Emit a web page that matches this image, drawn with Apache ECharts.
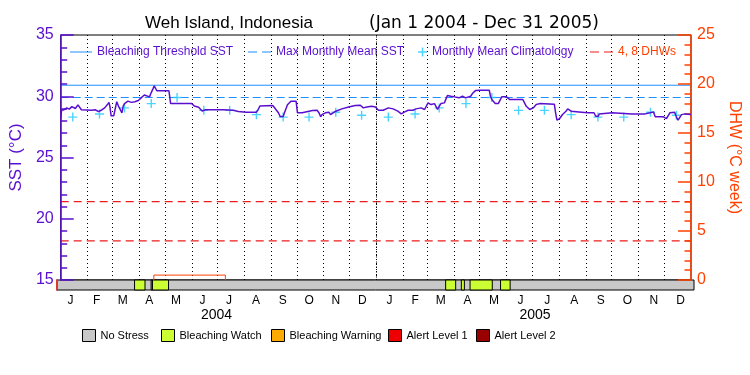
<!DOCTYPE html>
<html>
<head>
<meta charset="utf-8">
<title>Weh Island, Indonesia - SST / DHW</title>
<script src="https://cdn.jsdelivr.net/npm/echarts@6/dist/echarts.min.js"></script>
<style>
  html, body { margin: 0; padding: 0; background: #fff; }
  #chart { width: 750px; height: 375px; }
</style>
</head>
<body>
<div id="chart"></div>
<script>
// x values are days counted from Jan 1 2004 (731 days to Jan 1 2006)
const monthStarts = [0, 31, 60, 91, 121, 152, 182, 213, 244, 274, 305, 335,
  366, 397, 425, 456, 486, 517, 547, 578, 609, 639, 670, 700, 731]
const monthLabels = ['J', 'F', 'M', 'A', 'M', 'J', 'J', 'A', 'S', 'O', 'N', 'D',
  'J', 'F', 'M', 'A', 'M', 'J', 'J', 'A', 'S', 'O', 'N', 'D']
const yearLabels = ['2004', '2005']
const yearMids = [183, 548.5]

// SST (°C)
const sstDays = [0, 1, 4, 7, 10, 13, 17, 20, 22, 24, 26, 36, 40, 44, 48, 51, 54, 56, 57, 58.5,
  60, 61.5, 63, 65, 67, 69, 71, 72.5, 74, 78, 82, 86, 90, 93, 97, 99, 103, 105, 107, 108.5,
  110, 111.5, 125.5, 127.5, 152, 155, 160, 164, 166, 168, 189, 200, 206, 215, 227, 229, 231, 246, 252.5, 254.5,
  258, 259.5, 263, 267, 273, 274.6, 276.6, 280, 284, 292, 297.5, 299.5, 301.5, 303, 307, 311, 313, 315, 319, 326,
  334, 341.5, 347.5, 351, 355, 360.5, 365, 368.5, 374, 380, 385.5, 391, 395, 399, 403, 408.5, 412, 418,
  422, 426, 429.5, 433.5, 435.5, 437, 439, 441, 445, 448.5, 452.5, 456.5, 458, 462, 466, 469.5, 471.5, 475.5,
  477.5, 481, 487, 497, 498.5, 500, 504, 507.5, 511.5, 517, 521, 536, 540, 544, 548, 551.5, 555.5, 572.5,
  574, 575.5, 578.5, 582, 586, 588, 592, 601, 611, 618.5, 620.5, 623.5, 624.5, 639.5, 662.5, 678, 683.5, 687.5,
  689.5, 699, 702.5, 704.5, 706.5, 712, 714, 716, 720, 724, 731]
const sstVals = [28.2, 28.85, 28.9, 29.05, 28.95, 29.15, 29.0, 29.3, 29.15, 28.9, 28.8, 28.85, 28.9, 28.75, 28.9, 29.05, 29.3, 29.5, 29.2, 28.4,
  28.25, 28.4, 28.9, 29.55, 29.2, 29.3, 28.65, 29.2, 29.4, 29.6, 29.5, 29.55, 29.65, 29.85, 30.1, 30.05, 29.95, 30.3, 30.6, 30.85,
  30.75, 30.45, 30.45, 29.4, 29.4, 29.2, 29.1, 28.8, 28.7, 28.9, 28.9, 28.85, 28.75, 28.7, 28.7, 28.9, 29.2, 29.25, 28.65, 28.35,
  28.35, 28.65, 29.3, 29.6, 29.6, 28.65, 28.55, 28.65, 28.72, 28.83, 28.85, 28.65, 28.32, 28.5, 28.65, 28.7, 28.5, 28.65, 28.78, 28.97,
  29.13, 29.24, 29.27, 29.05, 29.13, 29.18, 29.13, 28.86, 28.86, 29.05, 28.97, 28.78, 28.56, 28.72, 28.86, 28.86, 28.97, 29.05,
  28.92, 29.46, 29.32, 29.4, 29.13, 28.92, 29.18, 29.4, 29.46, 30.06, 30.0, 29.95, 29.79, 29.87, 30.0, 29.87, 29.82, 30.0,
  30.22, 30.46, 30.49, 30.49, 30.0, 29.73, 29.4, 29.4, 29.95, 29.95, 29.73, 29.73, 29.18, 28.92, 29.05, 29.32, 29.4, 29.35,
  28.65, 28.05, 28.16, 28.51, 28.78, 28.97, 28.78, 28.72, 28.65, 28.65, 28.37, 28.37, 28.56, 28.65, 28.56, 28.56, 28.65, 28.72,
  28.32, 28.32, 28.18, 28.32, 28.65, 28.7, 28.32, 28.05, 28.5, 28.56, 28.51]

// monthly mean climatology, Jan..Dec, plotted mid-month in both years
const climVals = [28.3, 28.55, 29.05, 29.4, 29.9, 28.85, 28.85, 28.5, 28.3, 28.3, 28.7, 28.45]
const mmmSST = 29.9
const thresholdSST = 30.9
const dhwLevels = [4, 8]

// degree heating weeks (°C week)
const dhwDays = [108, 108, 191, 191]
const dhwVals = [0, 0.5, 0.5, 0]

// bleaching stress bar: segments [start, end) with level index
const stressStart = [0, 89, 108, 109.5, 446, 464, 474, 509]
const stressEnd = [731, 101, 109.5, 128, 457.5, 467.5, 499.5, 520]
const stressLevel = [0, 1, 2, 1, 1, 1, 1, 1]
const stressNames = ['No Stress', 'Bleaching Watch', 'Bleaching Warning', 'Alert Level 1', 'Alert Level 2']
const stressColors = ['#c8c8c8', '#ccff33', '#ffaa00', '#ee0000', '#990000']

const FONT = 'Liberation Sans'
const PURPLE = '#5a0fd0'
const ORANGE = '#ff4000'
const BLUE = '#1e90ff'
const CYAN = '#1ec8ff'
const DHW_RED = '#ee1c1c'
const CROSS = 'path://M3.8,0h1.4v3.8h3.8v1.4h-3.8v3.8h-1.4v-3.8h-3.8v-1.4h3.8z'
const ICON_SOLID = 'path://M0,0h22v1h-22z'
const ICON_DASH = 'path://M0,0h9v1h-9zM14,0h9v1h-9z'

const monthMids = monthStarts.slice(0, -1).map((d, i) => (d + monthStarts[i + 1]) / 2)
const climData = monthStarts.slice(0, -1).map((d, i) => [d + 14, climVals[i % 12]])
const sstData = sstDays.map((d, i) => [d, sstVals[i]])
const dhwData = dhwDays.map((d, i) => [d, dhwVals[i]])
const txt = (size, color, family) => ({ fontFamily: family || FONT, fontSize: size, color: color || '#000' })

const renderStress = (params, api) => {
  const p0 = api.coord([api.value(0), 1])
  const p1 = api.coord([api.value(1), 0])
  return {
    type: 'rect',
    shape: { x: p0[0], y: p0[1], width: p1[0] - p0[0], height: p1[1] - p0[1] },
    style: { fill: api.visual('color'), stroke: '#000', lineWidth: 1 }
  }
}

const stressSeries = stressNames.map((name, lvl) => ({
  name,
  type: 'custom',
  xAxisIndex: 1,
  yAxisIndex: 2,
  renderItem: renderStress,
  itemStyle: { color: stressColors[lvl] },
  data: stressStart.map((s, i) => [s, stressEnd[i], stressLevel[i]]).filter(d => d[2] === lvl),
  z: 3 + lvl
}))

// one legend per item so they sit where the original puts them
const bottomLeft = [82, 161, 271, 388, 476]
const bottomLegends = stressNames.map((name, i) => ({
  data: [name], left: bottomLeft[i], top: 329, padding: 0, selectedMode: false,
  icon: 'rect', itemWidth: 13, itemHeight: 12,
  itemStyle: { borderColor: '#000', borderWidth: 1 },
  textStyle: txt(11)
}))
const topLegends = [
  { name: 'Bleaching Threshold SST', left: 70, icon: ICON_SOLID, w: 22, h: 1.5, color: PURPLE },
  { name: 'Max Monthly Mean SST', left: 248, icon: ICON_DASH, w: 23, h: 1.5, color: PURPLE },
  { name: 'Monthly Mean Climatology', left: 418, icon: CROSS, w: 9, h: 9, color: PURPLE },
  { name: '4, 8 DHWs', left: 590, icon: ICON_DASH, w: 23, h: 1.5, color: ORANGE }
].map(l => ({
  data: [{ name: l.name, icon: l.icon }], left: l.left, top: 46, padding: 0, selectedMode: false,
  itemWidth: l.w, itemHeight: l.h,
  textStyle: txt(12, l.color)
}))

const option = {
  animation: false,
  title: [
    { text: 'Weh Island, Indonesia', left: 140, top: 10, textStyle: { ...txt(17), fontWeight: 'normal' } },
    { text: '(Jan 1 2004 - Dec 31 2005)', left: 364, top: 10, textStyle: { ...txt(17, '#000', 'DejaVu Sans'), fontWeight: 'normal' } }
  ],
  legend: [...topLegends, ...bottomLegends],
  grid: [
    { left: 57, right: 56, top: 35, height: 245, show: true, borderColor: '#000', borderWidth: 1 },
    { left: 57, right: 56, top: 280, height: 10 }
  ],
  xAxis: [
    {
      gridIndex: 0, type: 'value', min: 0, max: 731,
      axisLine: { show: false },
      axisTick: { show: false, customValues: monthStarts.slice(1, -1) },
      axisLabel: { show: false },
      splitLine: { show: true, lineStyle: { color: '#000', type: [1, 3], width: 1 } }
    },
    {
      gridIndex: 1, type: 'value', position: 'bottom', min: 0, max: 731,
      axisLine: { show: false }, axisTick: { show: false }, splitLine: { show: false },
      axisLabel: {
        customValues: monthMids, margin: 5, ...txt(12),
        formatter: v => monthLabels[monthMids.findIndex(m => Math.abs(m - v) < 0.01)] || ''
      }
    },
    {
      gridIndex: 1, type: 'value', position: 'bottom', min: 0, max: 731, offset: 16,
      axisLine: { show: false }, axisTick: { show: false }, splitLine: { show: false },
      axisLabel: {
        customValues: yearMids, margin: 2, ...txt(14),
        formatter: v => yearLabels[yearMids.indexOf(v)] || ''
      }
    }
  ],
  yAxis: [
    {
      gridIndex: 0, type: 'value', position: 'left', min: 15, max: 35, interval: 5, z: 5,
      name: 'SST (°C)', nameLocation: 'middle', nameGap: 35, nameTextStyle: txt(17, PURPLE),
      axisLine: { show: true, lineStyle: { color: PURPLE, width: 1.5 } },
      axisTick: { inside: true, length: 13, lineStyle: { color: PURPLE, width: 1.5 } },
      minorTick: { show: true, splitNumber: 5, length: 6.5, lineStyle: { color: PURPLE, width: 1.5 } },
      axisLabel: { margin: 7, ...txt(16, PURPLE) },
      splitLine: { show: false }
    },
    {
      gridIndex: 0, type: 'value', position: 'right', min: 0, max: 25, interval: 5, z: 5,
      name: 'DHW (°C week)', nameLocation: 'middle', nameGap: 35, nameRotate: -90, nameTextStyle: txt(16, ORANGE),
      axisLine: { show: true, lineStyle: { color: ORANGE, width: 1.5 } },
      axisTick: { inside: true, length: 13, lineStyle: { color: ORANGE, width: 1.5 } },
      minorTick: { show: true, splitNumber: 5, length: 6.5, lineStyle: { color: ORANGE, width: 1.5 } },
      axisLabel: { margin: 6, ...txt(16, ORANGE) },
      splitLine: { show: false }
    },
    {
      gridIndex: 1, type: 'value', position: 'left', min: 0, max: 1, z: 5,
      axisLine: { show: true, lineStyle: { color: PURPLE, width: 1.5 } },
      axisTick: { show: false }, axisLabel: { show: false }, splitLine: { show: false }
    },
    {
      gridIndex: 1, type: 'value', position: 'right', min: 0, max: 1, z: 5,
      axisLine: { show: true, lineStyle: { color: ORANGE, width: 1.5 } },
      axisTick: { show: false }, axisLabel: { show: false }, splitLine: { show: false }
    }
  ],
  series: [
    {
      name: 'Bleaching Threshold SST', type: 'line', symbol: 'none', silent: true,
      itemStyle: { color: BLUE }, lineStyle: { color: BLUE, width: 1 },
      data: [[0, thresholdSST], [731, thresholdSST]]
    },
    {
      name: 'Max Monthly Mean SST', type: 'line', symbol: 'none', silent: true,
      itemStyle: { color: BLUE }, lineStyle: { color: BLUE, width: 1.2, type: [8, 4] },
      data: [[0, mmmSST], [731, mmmSST]]
    },
    ...dhwLevels.map(v => ({
      name: '4, 8 DHWs', type: 'line', yAxisIndex: 1, symbol: 'none', silent: true,
      itemStyle: { color: DHW_RED }, lineStyle: { color: DHW_RED, width: 1.2, type: [8, 5] },
      data: [[0, v], [731, v]]
    })),
    {
      name: 'Monthly Mean Climatology', type: 'scatter', symbol: CROSS, symbolSize: 9,
      itemStyle: { color: CYAN }, z: 4,
      data: climData
    },
    {
      name: 'SST', type: 'line', symbol: 'none', z: 5,
      lineStyle: { color: PURPLE, width: 1.5 },
      data: sstData,
      markLine: {
        silent: true, symbol: 'none', label: { show: false },
        lineStyle: { color: '#000', type: [1, 1.5], width: 1 },
        data: [{ xAxis: 366 }]
      }
    },
    {
      name: 'DHW', type: 'line', yAxisIndex: 1, symbol: 'none', z: 6,
      lineStyle: { color: ORANGE, width: 1 },
      data: dhwData
    },
    ...stressSeries
  ]
}

const chart = echarts.init(document.getElementById('chart'))
chart.setOption(option)
</script>
</body>
</html>
